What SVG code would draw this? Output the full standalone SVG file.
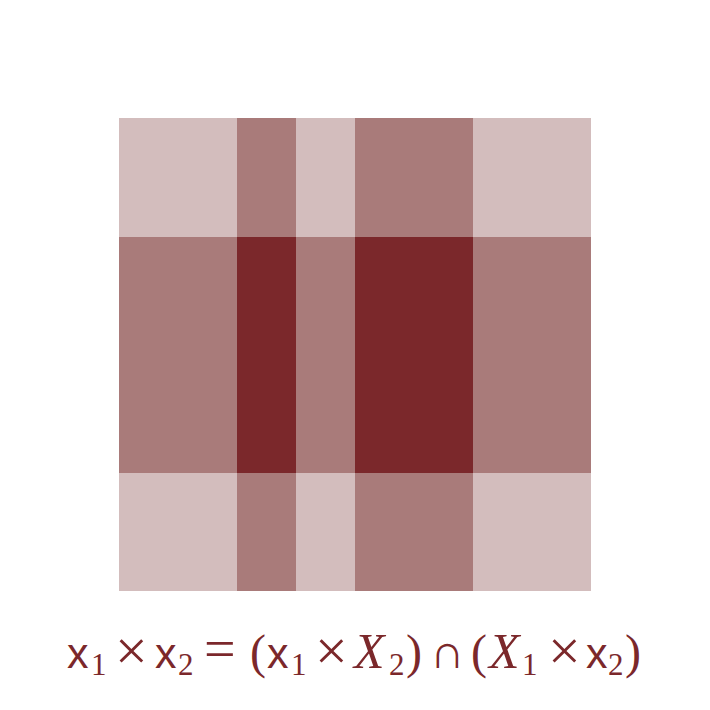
<svg xmlns="http://www.w3.org/2000/svg" width="710" height="710" viewBox="0 0 710 710">
<style>
.l{fill:#d3bdbd}.m{fill:#a97b7a}.d{fill:#7b282b}
text{fill:#7b282b;font-family:"Liberation Serif",serif}
.sf{font-family:"Liberation Sans",sans-serif;font-size:43px}
.it{font-style:italic;font-size:50px}
.op{font-size:48px}
.tm{font-size:58px}
.sb{font-size:31px}
</style>
<rect width="710" height="710" fill="#fff"/>
<g id="grid">
<rect class="l" x="119" y="118" width="118" height="119"/>
<rect class="m" x="237" y="118" width="59" height="119"/>
<rect class="l" x="296" y="118" width="59" height="119"/>
<rect class="m" x="355" y="118" width="118" height="119"/>
<rect class="l" x="473" y="118" width="118" height="119"/>
<rect class="m" x="119" y="237" width="118" height="236"/>
<rect class="d" x="237" y="237" width="59" height="236"/>
<rect class="m" x="296" y="237" width="59" height="236"/>
<rect class="d" x="355" y="237" width="118" height="236"/>
<rect class="m" x="473" y="237" width="118" height="236"/>
<rect class="l" x="119" y="473" width="118" height="118"/>
<rect class="m" x="237" y="473" width="59" height="118"/>
<rect class="l" x="296" y="473" width="59" height="118"/>
<rect class="m" x="355" y="473" width="118" height="118"/>
<rect class="l" x="473" y="473" width="118" height="118"/>
</g>
<g id="formula">
<text class="sf" x="67" y="668">x</text>
<text class="sb" x="91" y="675">1</text>
<text class="tm" x="115" y="670">×</text>
<text class="sf" x="155" y="668">x</text>
<text class="sb" x="178" y="675">2</text>
<text x="204" y="668" font-size="56">=</text>
<text class="op" x="250" y="668">(</text>
<text class="sf" x="267" y="668">x</text>
<text class="sb" x="291" y="675">1</text>
<text class="tm" x="315" y="670">×</text>
<text class="it" x="354" y="668">X</text>
<text class="sb" x="389" y="675">2</text>
<text class="op" x="406" y="668">)</text>
<text class="op" x="430" y="668">∩</text>
<text class="op" x="471" y="668">(</text>
<text class="it" x="489" y="668">X</text>
<text class="sb" x="522" y="675">1</text>
<text class="tm" x="548" y="670">×</text>
<text class="sf" x="586" y="668">x</text>
<text class="sb" x="608" y="675">2</text>
<text class="op" x="625" y="668">)</text>
</g>
</svg>
